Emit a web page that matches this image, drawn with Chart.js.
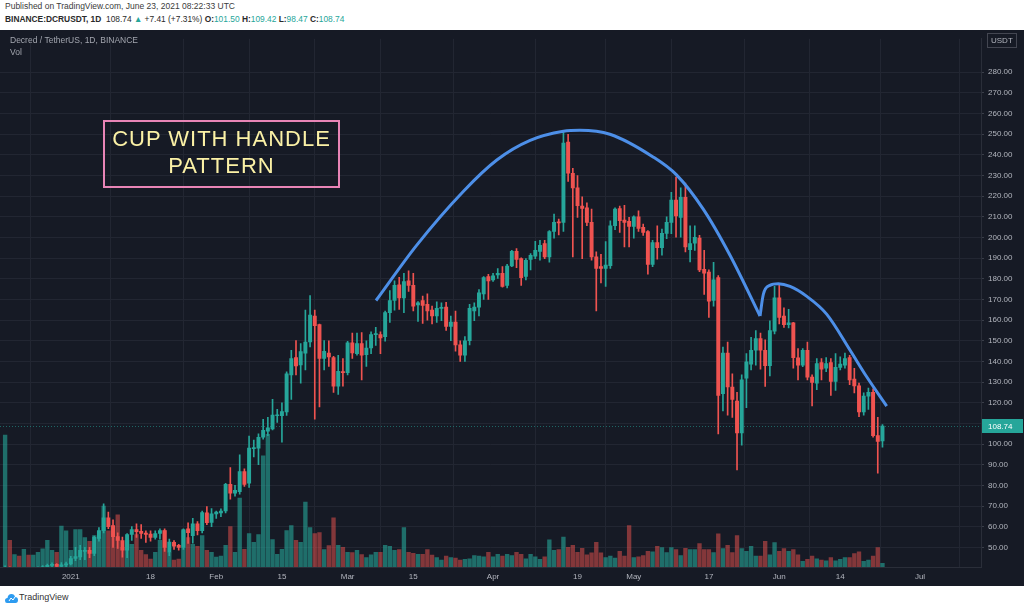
<!DOCTYPE html>
<html>
<head>
<meta charset="utf-8">
<script src="https://cdn.jsdelivr.net/npm/chart.js@4.4.0/dist/chart.umd.min.js"></script>
<style>
body { margin:0; width:1024px; height:611px; background:#fff; position:relative; overflow:hidden; font-family:'Liberation Sans', Arial, sans-serif; }
#pub { position:absolute; left:5px; top:1px; font-size:8.5px; color:#3b3b3b; white-space:nowrap; }
#sym { position:absolute; left:5px; top:14px; font-size:8.4px; color:#2a2a2a; white-space:nowrap; }
#sym b { font-weight:bold; }
#sym .up { color:#26a69a; }
#wrap { position:absolute; left:0; top:30px; width:1024px; height:556px; background:#161a25; }
#note { position:absolute; left:103px; top:120px; width:233px; height:61px; border:2px solid #e884b6; color:#fbf1a6; font-size:22px; line-height:27px; text-align:center; letter-spacing:1px; padding-top:3px; }
#foot { position:absolute; left:5px; top:592px; font-size:9px; color:#333; white-space:nowrap; }
#foot svg { vertical-align:middle; margin-right:1px; }
</style>
</head>
<body>
<div id="pub">Published on TradingView.com, June 23, 2021 08:22:33 UTC</div>
<div id="sym"><b>BINANCE:DCRUSDT, 1D</b>&nbsp; 108.74 <span class="up">▲</span> +7.41 (+7.31%) <b>O:</b><span class="up">101.50</span> <b>H:</b><span class="up">109.42</span> <b>L:</b><span class="up">98.47</span> <b>C:</b><span class="up">108.74</span></div>
<div id="wrap"><canvas id="chart" width="1024" height="556"></canvas></div>
<div id="note">CUP WITH HANDLE<br>PATTERN</div>
<div id="foot"><svg width="13" height="12" viewBox="0 0 13 12"><path d="M2 11 Q0 11 0 8.5 Q0 6 2.5 6 Q3 2 6.5 2 Q9.5 2 10 5 Q13 5 13 8 Q13 11 10.5 11 Z" fill="#2d9bf0"/><path d="M4 9 L6 6 L8 8 L10 5" stroke="#fff" stroke-width="1" fill="none"/></svg>TradingView</div>

<script>
// first candle is 18 Dec 2020, x values are days counted from 1 Jan 2021
var firstDay = -14;

var openP = [
	37,39.5,38.4,39,38.3,39.3,38.7,39.2,39.9,40.6,41.3,41.8,40.8,41.5, // dec
	42,44.6,45.3,48,48.6,47.1,54.3,58.1,64.3,60.5,55.2,53.3,48.6,56.2,58.6,57.8,56.9,56.4,54.8,56.7,58.1,47.8,52.4,51,50,59,55.7,61.4,58.1,66.7,62, // jan
	66.2,66.7,67.6,80.5,76.2,77,86.7,81,97.8,98,103.3,106.2,107.3,113.7,113.7,115.6,133.5,141.9,138.3,144,149.4,162,157.8,141.4,144.1,141.9,128,135, // feb
	134.6,149,143.8,148.6,143.3,146.5,153,153,152,163.6,169.5,177.1,170.8,179,176.8,167.3,169.5,167.6,164.9,162,165.7,166.3,157,159,148,143,150,164.4,166.3,172.7,181.1, // mar
	179.5,181.9,182.7,176.8,186.2,193.3,189.8,181.1,189.4,191,193.3,197,190.6,202.9,207.6,207.3,246.2,231.1,224,215.2,214.4,207.3,190.6,185.9,185,186.3,205.7,214,208.4,207.8, // apr
	205.4,210,204.9,202.9,187,197.5,195.1,202,207.3,218.1,209.7,219.5,194.1,197.3,199.7,184.6,183.2,169.5,180.6,124.4,144.1,127.6,120.8,105.4,131.9,138.7,145.4,151,145.4,138,154.6, // may
	170.8,162,157.8,158.7,141.8,138.2,145.4,132.4,129.5,139.4,136.7,139.4,130.3,137.1,138.2,141.9,131.4,128.2,115.6,123.2,125,104.1,101.5 // jun
];
var highP = [
	41,40.5,39.8,39.5,40,39.8,39.7,40.5,41.2,41.9,42.5,42.1,42.6,42.8,
	45.6,50,51,50,50,55.5,59.5,71,67.1,63.3,57,55,56.7,60,61.4,61,58,58,58,59,59,54,53.3,51.5,59,61.9,64,62.5,67.5,69.7,68.7,
	67.6,68.6,81,88.6,80,94.8,88,103.8,101.9,105,112,112.9,121.6,116.8,120,135,145.4,150.1,148.6,164.8,171.9,164.8,158.1,150.1,150,142.5,143,141.4,
	149.7,153.7,153.7,154,150,154.3,156.5,154.3,164.4,174.3,179,180.7,182.7,183.8,182.7,169,171.6,172.7,166.8,168.9,168.4,168.6,162,164.4,150,152,167.6,168.4,174.8,181.1,182.2,
	182.7,185,185.9,187,193.8,194.6,190.1,189.8,192.2,198.1,198.6,198.6,203.3,211.3,208.9,250.9,249.9,233.5,230,219.7,216.8,213.7,193,191.8,198,208.1,214.4,215.2,215.6,209.7,
	210.5,212.9,206.5,203.3,198.6,205.7,204.1,210,221.9,229.2,224,226.3,205.7,205.7,201,193.8,184.3,188,181.6,147,149.4,134,125,133.5,143.8,151.7,154.9,153.7,150.5,159.7,176.3,
	177.1,166,165.2,158.9,146.2,146.2,149.4,133.5,141.4,141.4,141.9,141.4,143.8,142.2,144.1,143,136.7,129.5,124.8,127.1,126.7,112.9,109.42
];
var lowP = [
	36,37,37.4,37.2,37.6,37.8,38,38.6,39.2,39.9,40.5,39.9,39.5,40.4,
	41.5,43.5,44,44,45,46,53,57,59,50,49.5,45.2,45,53.3,54.8,54.3,52.4,53,54,54,48,46,49,48.6,49,51.9,52,56,57,61,60,
	64,64.8,66.7,73.3,74.8,75.7,79.5,79,93.8,90,102.4,104,106.8,110.5,100.9,113.8,121.6,133.5,129.5,135.9,147,112,118,135.9,137.6,125,124,128,
	133.5,141.4,143,131,137.6,143.8,147.8,143.8,149.8,158.9,164.8,165.2,163.6,173.9,164.4,159.4,158.4,160,158.1,158.9,159.7,155,150,145,140,140,148,159.7,162,170,170,
	178.7,180.2,176,175.6,185.9,185.4,176.8,179.5,184.3,189.8,189,189.8,188,199.7,201.3,202.9,227.1,190.6,209.7,189.8,205.7,189,164.4,178,176.3,185,203.8,202.5,195.4,195.4,
	199.7,202.9,201,182.2,185.9,189.5,191.4,199.4,201.8,200.1,200.1,193,188.2,193.8,183.5,172.4,161.3,166.8,104.9,116,114,112.9,87.5,99.4,117.6,135.9,138.2,136.2,127.9,133,153.3,
	158.1,156.5,156.2,136.7,131.1,137.5,131.1,118.4,126.3,131.1,135.1,123.5,126,135.9,136.7,128.7,124.8,113.3,114,116.8,103.3,85.9,98.47
];
var closeP = [
	39.5,38.4,39,38.3,39.3,38.7,39.2,39.9,40.6,41.3,41.8,40.8,41.5,42,
	44.6,45.5,48.6,48.5,47.1,54.8,58.1,64.3,60,55.2,53.3,48.6,56.2,58.6,57.6,56.7,56.2,54.8,56.7,58.1,50,52.5,50.5,50,58.6,57.1,61.4,58.1,66.8,61.9,66.2,
	67.1,67.6,80.5,76.2,77.6,86.7,80.5,98.1,98.3,103.3,106.7,107.8,114,114,115.7,134,141.4,137.8,144.8,149.4,162.4,157.3,141.4,144.9,142.2,128,135.2,134.6,
	149,144.1,148.6,143,146.5,153,153.3,151.4,163.6,169.5,176.8,170.8,178.7,176.8,166.8,168.4,167.1,164.4,162,165.7,166.1,157,159,148,143,150,165.7,166.3,173.2,180.6,179,
	181.4,182.7,176.3,186.2,193.3,189.4,180.6,189,191.4,193.8,196.2,190.6,202.9,207.3,207,245.7,231.1,224,215.4,214.1,207.3,190.6,185,185,186.7,205.7,213.7,208.1,207.3,205.4,
	210,204.4,202.5,187,197.5,195.1,202,207.3,218.1,210.5,219.5,195.4,197,200.1,184.3,182.7,169.2,179.5,123.5,144.1,127.6,121.6,105.4,131.1,139.8,145.4,151,145.4,138,154.9,170.8,
	161.3,157.8,158.7,141.8,138.2,145.4,132.4,129.8,139,136.2,139,130.3,137.1,138.7,141.4,131.1,128.2,115.6,123.2,125,104.1,101.33,108.74
];
// volume, thousands DCR
var volume = [
	134,27,12.7,11,18,12,12,15,18.5,27,17,15,41.7,36.7,
	17,38,38,30,26,32,30,62,36.7,40,53,20,27,23,33,17,12.7,8,15,27,37,15,7,8,37,30,23,21,32,17,15,
	10,11,22,41,15,70,18,34,25,33,113,135,28,13,18,37,42,27,25,66,40,34,35,17.7,21.7,50,22,20,
	15,14.7,17,12.7,9.7,12.3,15,15,22,21,17,17.7,40,15,14,13,13,17.7,12,9.7,7,11,9.7,9,7,7.7,8.3,11.7,11,10.3,15,
	10.3,13,11,13,11.7,15,13,8.3,13,10.3,7.7,10.3,27.7,17,17.7,30.3,20,22,15,19,12.3,14.3,25,14.3,9.7,11,9,16,11,42,
	9.7,10.3,11.7,16,15.3,21,19.7,14.7,19.7,17.7,11.7,19,17.7,17.7,23.7,17.7,17.7,14.7,33.7,18.7,22,14.7,32,18.7,16,21,11,11,26,12.3,24.7,
	16,18.7,16,17.7,12.3,5.7,7.7,11,8.3,7,6.3,9.7,6.3,7.7,9.7,9.7,13.7,15.3,5.7,7,11,19.7,3.7
];

var dateTicks = [0, 17, 31, 45, 59, 73, 90, 108, 120, 136, 151, 164, 181];
var dateTickLabels = ['2021', '18', 'Feb', '15', 'Mar', '15', 'Apr', '19', 'May', '17', 'Jun', '14', 'Jul'];
var priceTicks = [50,60,70,80,90,100,110,120,130,140,150,160,170,180,190,200,210,220,230,240,250,260,270,280];

// hand drawn pattern lines, [day, price]
var cupLine = [[65.05,169.5],[73.7,196.2],[83.7,222.4],[90.8,237.5],[97.9,247],[105,251.4],[108.5,251.9],[114.9,250],[124.1,239],[129.1,230.3],[134.8,213.7],[140.5,191.4],[146.9,162]];
var handleLine = [[146.9,162],[147.6,172.4],[149,176.8],[150.8,177.6],[153.3,176.3],[156.8,171.6],[161.1,162.9],[166.1,145.4],[169.6,132.7],[173.9,118.4]];

var GREEN = '#26a69a', RED = '#ef5350';

function buildData() {
	var bodies = [], wicks = [], vols = [], cols = [], vcols = [];
	for (var k = 0; k < openP.length; k++) {
		var x = firstDay + k;
		var up = closeP[k] >= openP[k];
		bodies.push({x: x, y: [openP[k], closeP[k]]});
		wicks.push({x: x, y: [lowP[k], highP[k]]});
		vols.push({x: x, y: volume[k]});
		cols.push(up ? GREEN : RED);
		vcols.push(up ? 'rgba(38,166,154,0.6)' : 'rgba(239,83,80,0.5)');
	}
	return {bodies: bodies, wicks: wicks, vols: vols, cols: cols, vcols: vcols};
}

var tvDecor = {
	id: 'tvDecor',
	beforeDraw: function(chart) {
		var c = chart.ctx;
		c.save();
		c.fillStyle = '#161a25';
		c.fillRect(0, 0, chart.width, chart.height);
		c.restore();
	},
	beforeDatasetsDraw: function(chart) {
		var c = chart.ctx, a = chart.chartArea;
		var y = Math.round(chart.scales.y.getPixelForValue(closeP[closeP.length - 1])) + 0.5;
		c.save();
		c.strokeStyle = 'rgba(38,166,154,0.55)';
		c.lineWidth = 1;
		c.setLineDash([1, 2]);
		c.beginPath(); c.moveTo(a.left, y); c.lineTo(a.right, y); c.stroke();
		c.restore();
	},
	afterDraw: function(chart) {
		var c = chart.ctx, a = chart.chartArea;
		var last = closeP[closeP.length - 1];
		var y = chart.scales.y.getPixelForValue(last);
		c.save();
		// last price tag
		c.fillStyle = GREEN;
		c.fillRect(a.right + 1, y - 7, 41, 14);
		c.fillStyle = '#ffffff';
		c.font = '8px "Liberation Sans", Arial';
		c.textBaseline = 'middle';
		c.fillText(last.toFixed(2), a.right + 7, y + 0.5);
		// currency box
		c.strokeStyle = '#434651';
		c.strokeRect(a.right + 6.5, 3.5, 29, 14);
		c.fillStyle = '#b2b5be';
		c.fillText('USDT', a.right + 10, 11);
		// legend
		c.fillStyle = '#a3a6af';
		c.font = '8.5px "Liberation Sans", Arial';
		c.fillText('Decred / TetherUS, 1D, BINANCE', 10, 11);
		c.fillText('Vol', 10, 23);
		c.restore();
	}
};

var d = buildData();

new Chart(document.getElementById('chart'), {
	type: 'bar',
	data: {
		datasets: [
			{ type: 'line', data: cupLine.map(function(p){ return {x: p[0], y: p[1]}; }), borderColor: '#4d8fe8', borderWidth: 3, pointRadius: 0, cubicInterpolationMode: 'monotone', order: 0 },
			{ type: 'line', data: handleLine.map(function(p){ return {x: p[0], y: p[1]}; }), borderColor: '#4d8fe8', borderWidth: 3, pointRadius: 0, cubicInterpolationMode: 'monotone', order: 0 },
			{ data: d.bodies, backgroundColor: d.cols, barThickness: 3.3, minBarLength: 1, order: 1 },
			{ data: d.wicks, backgroundColor: d.cols, barThickness: 1, order: 2 },
			{ data: d.vols, backgroundColor: d.vcols, barThickness: 3.7, yAxisID: 'yv', order: 3 }
		]
	},
	options: {
		responsive: false,
		animation: false,
		layout: { padding: 0 },
		datasets: { bar: { grouped: false } },
		plugins: { legend: { display: false }, tooltip: { enabled: false } },
		scales: {
			x: {
				type: 'linear', min: -15.09, max: 194.0, offset: false,
				afterBuildTicks: function(s) { s.ticks = dateTicks.map(function(v){ return {value: v}; }); },
				afterFit: function(s) { s.height = 19; },
				ticks: { autoSkip: false, maxRotation: 0, padding: 5, color: '#b2b5be', font: { family: 'Liberation Sans', size: 8 },
					callback: function(v, i) { return dateTickLabels[i]; } },
				grid: { color: '#222632', drawTicks: false },
				border: { color: '#2a2e39' }
			},
			y: {
				type: 'linear', position: 'right', min: 40.476, max: 296.19,
				afterBuildTicks: function(s) { s.ticks = priceTicks.map(function(v){ return {value: v}; }); },
				afterFit: function(s) { s.width = 43; },
				ticks: { padding: 4, color: '#b2b5be', font: { family: 'Liberation Sans', size: 8 },
					callback: function(v) { return v.toFixed(2); } },
				grid: { color: '#222632', tickLength: 3, tickColor: '#3a3e49' },
				border: { color: '#2a2e39' }
			},
			yv: { type: 'linear', display: false, min: 0, max: 537 }
		}
	},
	plugins: [tvDecor]
});
</script>
</body>
</html>
